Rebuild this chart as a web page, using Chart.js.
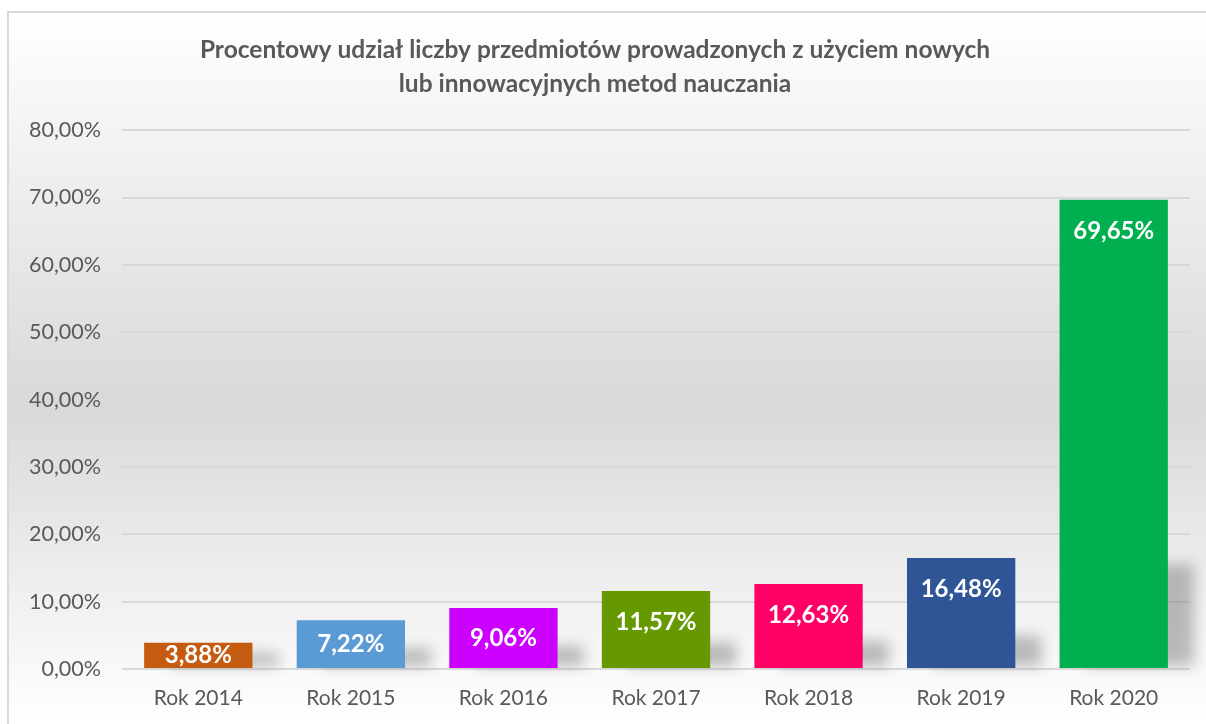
<!DOCTYPE html>
<html>
<head>
<meta charset="utf-8">
<script src="https://cdn.jsdelivr.net/npm/chart.js@4.4.0/dist/chart.umd.min.js"></script>
<style>
  html, body { margin: 0; padding: 0; background: #fff; }
  #wrap { width: 1206px; height: 724px; }
</style>
</head>
<body>
<div id="wrap"><canvas id="udzialChart" width="1206" height="724"></canvas></div>
<script>
const years = ["Rok 2014", "Rok 2015", "Rok 2016", "Rok 2017", "Rok 2018", "Rok 2019", "Rok 2020"];
const shares = [3.88, 7.22, 9.06, 11.57, 12.63, 16.48, 69.65];
const barColors = ["#c55a11", "#5b9bd5", "#cc00ff", "#669900", "#ff0066", "#2f5597", "#00b050"];
const yTicks = [0, 10, 20, 30, 40, 50, 60, 70, 80];

const fmt = (v) => v.toFixed(2).replace(".", ",") + "%";
const FONT = "Lato, 'Open Sans', sans-serif";

// tło z ramką i pionowym gradientem
const background = {
  id: "background",
  beforeDraw(chart) {
    const c = chart.ctx;
    const w = chart.width, h = chart.height;
    c.save();
    const g = c.createLinearGradient(0, 12, 0, h);
    g.addColorStop(0, "#ffffff");
    g.addColorStop(0.55, "#d9d9d9");
    g.addColorStop(1, "#ffffff");
    c.fillStyle = g;
    c.fillRect(8, 12, w - 8, h - 12);
    c.strokeStyle = "#d9d9d9";
    c.lineWidth = 2;
    c.beginPath();
    c.moveTo(w, 12);
    c.lineTo(8, 12);
    c.lineTo(8, h);
    c.stroke();
    c.restore();
  },
};

// cień za słupkami
const barShadow = {
  id: "barShadow",
  beforeDatasetsDraw(chart) {
    const c = chart.ctx;
    c.save();
    c.filter = "blur(7px)";
    c.fillStyle = "rgba(110,110,110,0.45)";
    chart.getDatasetMeta(0).data.forEach((bar) => {
      const hgt = bar.base - bar.y;
      const sh = hgt * 0.2 + 10;
      const left = bar.x - bar.width / 2;
      c.fillRect(left + 26, bar.base - sh, bar.width, sh - 2);
    });
    c.restore();
  },
};

// etykiety wartości wewnątrz słupków
const valueLabels = {
  id: "valueLabels",
  afterDatasetsDraw(chart) {
    const c = chart.ctx;
    c.save();
    c.font = "bold 24px " + FONT;
    c.fillStyle = "#ffffff";
    c.textAlign = "center";
    c.textBaseline = "middle";
    chart.getDatasetMeta(0).data.forEach((bar, i) => {
      const y = Math.min(bar.y + 31, (bar.y + bar.base) / 2);
      c.fillText(fmt(shares[i]), bar.x, y);
    });
    c.restore();
  },
};

new Chart(document.getElementById("udzialChart"), {
  type: "bar",
  data: {
    labels: years,
    datasets: [
      {
        data: shares,
        backgroundColor: barColors,
        categoryPercentage: 0.71,
        barPercentage: 1,
      },
    ],
  },
  options: {
    responsive: false,
    animation: false,
    layout: { padding: { left: 0, right: 16, top: 0, bottom: 0 } },
    plugins: {
      legend: { display: false },
      tooltip: { enabled: false },
      title: {
        display: true,
        text: [
          "Procentowy udział liczby przedmiotów prowadzonych z użyciem nowych",
          "lub innowacyjnych metod nauczania",
        ],
        color: "#595959",
        font: { family: FONT, size: 24.5, weight: "bold", lineHeight: 1.35 },
        padding: { top: 34, bottom: 30 },
      },
    },
    scales: {
      y: {
        min: 0,
        max: 80,
        afterBuildTicks: (axis) => {
          axis.ticks = yTicks.map((v) => ({ value: v }));
        },
        afterFit: (axis) => {
          axis.width = 122;
        },
        ticks: {
          color: "#595959",
          font: { family: FONT, size: 21.5 },
          padding: 21,
          callback: (v) => fmt(v),
        },
        grid: { color: "#d9d9d9", lineWidth: 2, drawTicks: false },
        border: { display: false },
      },
      x: {
        afterFit: (axis) => {
          axis.height = 55;
        },
        ticks: {
          color: "#595959",
          font: { family: FONT, size: 21 },
          padding: 17,
        },
        grid: { display: false, drawTicks: false },
        border: { display: false },
      },
    },
  },
  plugins: [background, barShadow, valueLabels],
});
</script>
</body>
</html>
